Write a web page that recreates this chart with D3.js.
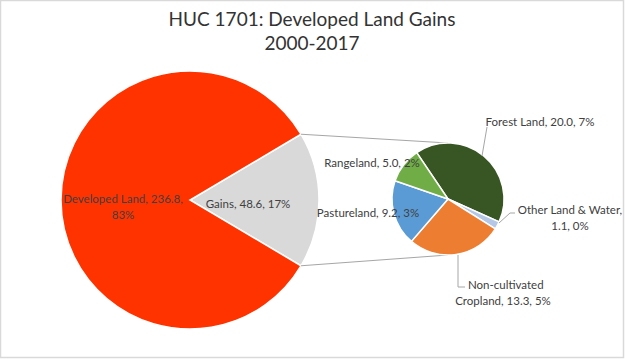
<!DOCTYPE html>
<html><head><meta charset="utf-8">
<script src="https://cdn.jsdelivr.net/npm/d3@7"></script>
<style>body{margin:0;background:#fff}svg{display:block}text{font-family:Lato,"Open Sans",sans-serif}</style>
</head><body>
<svg id="c" width="625" height="359"></svg>
<script>
const titleLines = ["HUC 1701: Developed Land Gains", "2000-2017"];
const mainCats = ["Gains", "Developed Land"];
const mainVals = [48.6, 236.8];
const mainPct = ["17%", "83%"];
const mainColors = ["#D9D9D9", "#FF3300"];
const subCats = ["Forest Land", "Other Land & Water", "Non-cultivated Cropland", "Pastureland", "Rangeland"];
const subVals = [20.0, 1.1, 13.3, 9.2, 5.0];
const subPct = ["7%", "0%", "5%", "3%", "2%"];
const subColors = ["#375623", "#B4C7E7", "#ED7D31", "#5B9BD5", "#70AD47"];

const svg = d3.select("#c");
svg.append("rect").attr("x",0.5).attr("y",0.5).attr("width",623).attr("height",357)
  .attr("fill","#fff").attr("stroke","#d9d9d9").attr("stroke-width",1.5);

svg.selectAll("text.title").data(titleLines).join("text").attr("class","title")
  .attr("x",312).attr("y",(d,i)=>26+i*24).attr("text-anchor","middle")
  .attr("font-size",19).attr("fill","#333").text(d=>d);

const mainTotal = d3.sum(mainVals);
const gainAng = mainVals[0]/mainTotal*2*Math.PI;
const mc = [190,200], mr = 129;
const mainPie = d3.pie().sort(null).startAngle(Math.PI/2 - gainAng/2).endAngle(Math.PI/2 - gainAng/2 + 2*Math.PI);
const mainArcs = mainPie(mainVals);
const arcM = d3.arc().innerRadius(0).outerRadius(mr);
const gM = svg.append("g").attr("transform",`translate(${mc})`);
gM.selectAll("path").data(mainArcs).join("path").attr("d",arcM)
  .attr("fill",(d,i)=>mainColors[i]).attr("stroke","#fff").attr("stroke-width",1.5);

const sc = [448,199], sr = 56;
const subStart = -34*Math.PI/180;
const subPie = d3.pie().sort(null).startAngle(subStart).endAngle(subStart+2*Math.PI);
const subArcs = subPie(subVals);
const arcS = d3.arc().innerRadius(0).outerRadius(sr);

const a0 = mainArcs[0].startAngle, a1 = mainArcs[0].endAngle;
const pt = (c,r,a)=>[c[0]+r*Math.sin(a), c[1]-r*Math.cos(a)];
const conn = [[pt(mc,mr,a0), [sc[0], sc[1]-sr]], [pt(mc,mr,a1), [sc[0], sc[1]+sr]]];
svg.selectAll("line.conn").data(conn).join("line").attr("class","conn")
  .attr("x1",d=>d[0][0]).attr("y1",d=>d[0][1]).attr("x2",d=>d[1][0]).attr("y2",d=>d[1][1])
  .attr("stroke","#a6a6a6").attr("stroke-width",1);

const gS = svg.append("g").attr("transform",`translate(${sc})`);
gS.selectAll("path").data(subArcs).join("path").attr("d",arcS)
  .attr("fill",(d,i)=>subColors[i]).attr("stroke","#fff").attr("stroke-width",1.5);

const leaders = [
  [[487,127],[482,156]],
  [[515,213],[510,213],[499,223]],
  [[465,287],[458,287],[458,255]]
];
svg.selectAll("path.lead").data(leaders).join("path").attr("class","lead")
  .attr("d",d=>d3.line()(d)).attr("fill","none").attr("stroke","#a6a6a6").attr("stroke-width",1);

const fmt = v=>v.toFixed(1);
const labels = [
  {lines:[`${mainCats[1]}, ${fmt(mainVals[1])},`, mainPct[1]], x:123, y:203, anchor:"middle"},
  {lines:[`${mainCats[0]}, ${fmt(mainVals[0])}, ${mainPct[0]}`], x:248, y:208, anchor:"middle"},
  {lines:[`${subCats[0]}, ${fmt(subVals[0])}, ${subPct[0]}`], x:540, y:126, anchor:"middle"},
  {lines:[`${subCats[1]},`, `${fmt(subVals[1])}, ${subPct[1]}`], x:570, y:214, anchor:"middle"},
  {lines:["Non-cultivated", `Cropland, ${fmt(subVals[2])}, ${subPct[2]}`], x:503, y:289, anchor:"middle", first:[468,"start"]},
  {lines:[`${subCats[3]}, ${fmt(subVals[3])}, ${subPct[3]}`], x:368, y:217, anchor:"middle"},
  {lines:[`${subCats[4]}, ${fmt(subVals[4])}, ${subPct[4]}`], x:372, y:167, anchor:"middle"}
];
labels.forEach(l=>{
  const t = svg.append("text").attr("font-size",11.5).attr("fill","#404040");
  l.lines.forEach((s,i)=>{
    const sp = t.append("tspan").attr("y",l.y+i*16).text(s);
    if(i===0 && l.first){ sp.attr("x",l.first[0]).attr("text-anchor",l.first[1]); }
    else sp.attr("x",l.x).attr("text-anchor",l.anchor);
  });
});
</script>
</body></html>
